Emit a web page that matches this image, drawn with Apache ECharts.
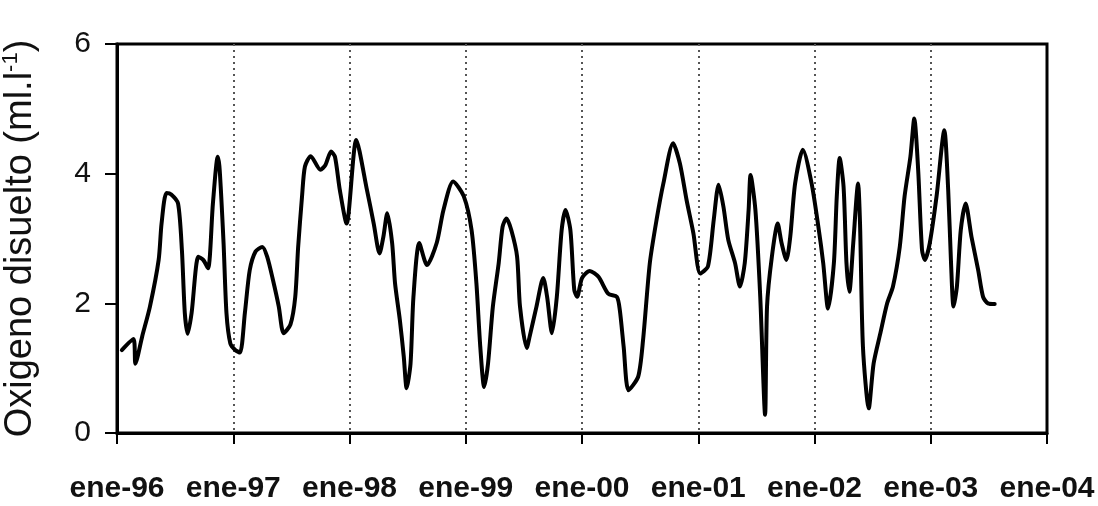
<!DOCTYPE html>
<html>
<head>
<meta charset="utf-8">
<script src="https://cdn.jsdelivr.net/npm/echarts@6/dist/echarts.min.js"></script>
<style>
  html, body { margin: 0; padding: 0; background: #fff; }
  #chart { width: 1098px; height: 506px; }
</style>
</head>
<body>
<div id="chart"></div>
<script>
// Dissolved oxygen series: months counted from January 1996
const months = [
  0.5, 1.7, 1.9, 2.6, 3.4, 4.3, 4.6, 5.1, 5.6, 6.3, 6.7, 7.0, 7.3, 7.7, 8.4, 8.9, 9.4, 9.9,
  10.4, 10.6, 11.0, 11.3, 11.7, 12.2, 12.7, 13.2, 13.7, 14.3, 15.0, 15.5, 16.1, 16.7, 17.2,
  17.9, 18.4, 18.7, 19.1, 19.4, 20.0, 21.0, 21.5, 22.1, 22.5, 23.0, 23.7, 24.7, 25.8, 26.5,
  27.1, 27.5, 27.9, 28.4, 28.7, 29.2, 29.6, 29.9, 30.3, 30.6, 31.2, 32.0, 33.0, 33.7, 34.7,
  35.8, 36.6, 37.1, 37.5, 37.9, 38.3, 38.8, 39.4, 39.8, 40.2, 40.7, 41.3, 41.6, 42.3, 42.6,
  43.3, 44.0, 44.4, 44.9, 45.4, 45.9, 46.3, 46.8, 47.2, 47.5, 48.0, 48.8, 49.7, 50.7, 51.6,
  51.9, 52.3, 52.8, 53.8, 54.3, 55.0, 55.7, 56.4, 57.4, 58.1, 58.8, 59.5, 60.2, 61.0, 61.6,
  62.1, 62.6, 63.1, 63.8, 64.3, 64.8, 65.2, 65.4, 65.9, 66.4, 66.9, 67.1, 67.6, 68.2, 68.6,
  69.1, 69.5, 70.0, 70.8, 71.7, 72.4, 72.9, 73.4, 74.0, 74.3, 74.6, 75.0, 75.3, 75.6, 76.0,
  76.5, 76.7, 77.0, 77.6, 78.1, 78.8, 79.5, 80.1, 80.8, 81.3, 81.9, 82.3, 82.7, 83.1, 83.4,
  83.9, 84.6, 85.4, 85.8, 86.1, 86.35, 86.7, 87.1, 87.6, 88.2, 88.9, 89.4, 89.9, 90.6
];
const oxygen = [
  1.28, 1.45, 1.07, 1.49, 1.95, 2.67, 3.23, 3.70, 3.68, 3.54, 2.82, 1.85, 1.53, 1.85, 2.72, 2.67, 2.54, 3.54,
  4.26, 4.06, 2.93, 1.85, 1.38, 1.28, 1.24, 1.85, 2.51, 2.80, 2.87, 2.72, 2.36, 1.95, 1.54,
  1.67, 2.10, 2.87, 3.65, 4.11, 4.27, 4.06, 4.13, 4.34, 4.26, 3.75, 3.23, 4.52, 3.75, 3.23,
  2.77, 3.03, 3.39, 2.93, 2.31, 1.74, 1.18, 0.69, 1.07, 2.10, 2.93, 2.59, 2.93, 3.44, 3.88,
  3.65, 3.13, 2.31, 1.33, 0.71, 1.07, 1.95, 2.62, 3.18, 3.31, 3.13, 2.72, 1.95, 1.31, 1.49,
  1.95, 2.39, 2.10, 1.54, 2.10, 3.13, 3.44, 3.13, 2.21, 2.10, 2.39, 2.50, 2.41, 2.15, 2.10,
  1.90, 1.33, 0.66, 0.87, 1.43, 2.62, 3.29, 3.85, 4.47, 4.16, 3.59, 3.08, 2.46, 2.57, 3.29,
  3.83, 3.49, 2.98, 2.62, 2.26, 2.62, 3.44, 3.98, 3.44, 2.10, 0.28, 1.95, 2.72, 3.23, 2.93,
  2.67, 3.03, 3.85, 4.37, 3.85, 3.18, 2.62, 1.92, 2.62, 3.65, 4.24, 3.80, 2.62, 2.18, 2.93,
  3.85, 3.23, 1.33, 0.38, 1.07, 1.54, 2.00, 2.26, 2.87, 3.65, 4.26, 4.85, 4.06, 2.82, 2.67,
  2.93, 3.65, 4.67, 3.75, 2.60, 1.95, 2.26, 3.13, 3.54, 3.03, 2.51, 2.10, 2.00, 1.99
];
const xTickLabels = ['ene-96', 'ene-97', 'ene-98', 'ene-99', 'ene-00', 'ene-01', 'ene-02', 'ene-03', 'ene-04'];
const yTicks = [0, 2, 4, 6];

const chart = echarts.init(document.getElementById('chart'), null, { renderer: 'canvas' });

chart.setOption({
  animation: false,
  backgroundColor: '#fff',
  grid: {
    left: 117, right: 51, top: 44, bottom: 73,
    outerBoundsMode: 'none',
    containLabel: false,
    show: true, borderColor: '#000', borderWidth: 3
  },
  xAxis: {
    type: 'value',
    min: 0,
    max: (xTickLabels.length - 1) * 12,
    interval: 12,
    axisLine: { show: true, lineStyle: { color: '#000', width: 3 } },
    axisTick: { show: true, inside: false, length: 11, lineStyle: { color: '#000', width: 2 } },
    axisLabel: {
      margin: 41,
      color: '#111',
      fontFamily: '"Liberation Sans", Arial, sans-serif',
      fontWeight: 'bold',
      fontSize: 30,
      hideOverlap: false,
      formatter: v => xTickLabels[Math.round(v / 12)]
    },
    splitLine: {
      show: true, showMinLine: false, showMaxLine: false,
      lineStyle: { color: '#555', width: 2, type: [2, 4] }
    }
  },
  yAxis: {
    type: 'value',
    min: yTicks[0],
    max: yTicks[yTicks.length - 1],
    interval: yTicks[1] - yTicks[0],
    axisLine: { show: true, lineStyle: { color: '#000', width: 3 } },
    axisTick: { show: true, inside: false, length: 12, lineStyle: { color: '#000', width: 2 } },
    axisLabel: {
      margin: 26,
      color: '#111',
      fontFamily: '"Liberation Sans", Arial, sans-serif',
      fontSize: 30
    },
    splitLine: { show: false },
    name: '{t|Oxigeno disuelto (ml.l}{s|-1}{t|)}',
    nameLocation: 'middle',
    nameRotate: 90,
    nameGap: 75,
    nameTextStyle: {
      rich: {
        t: { fontFamily: '"Liberation Sans", Arial, sans-serif', fontSize: 38, color: '#111', lineHeight: 42 },
        s: { fontFamily: '"Liberation Sans", Arial, sans-serif', fontSize: 22, color: '#111', verticalAlign: 'top', lineHeight: 42 }
      }
    }
  },
  series: [{
    type: 'line',
    data: months.map((m, i) => [m, oxygen[i]]),
    showSymbol: false,
    smooth: 0.25,
    lineStyle: { color: '#000', width: 4, cap: 'round', join: 'round' }
  }]
});
</script>
</body>
</html>
